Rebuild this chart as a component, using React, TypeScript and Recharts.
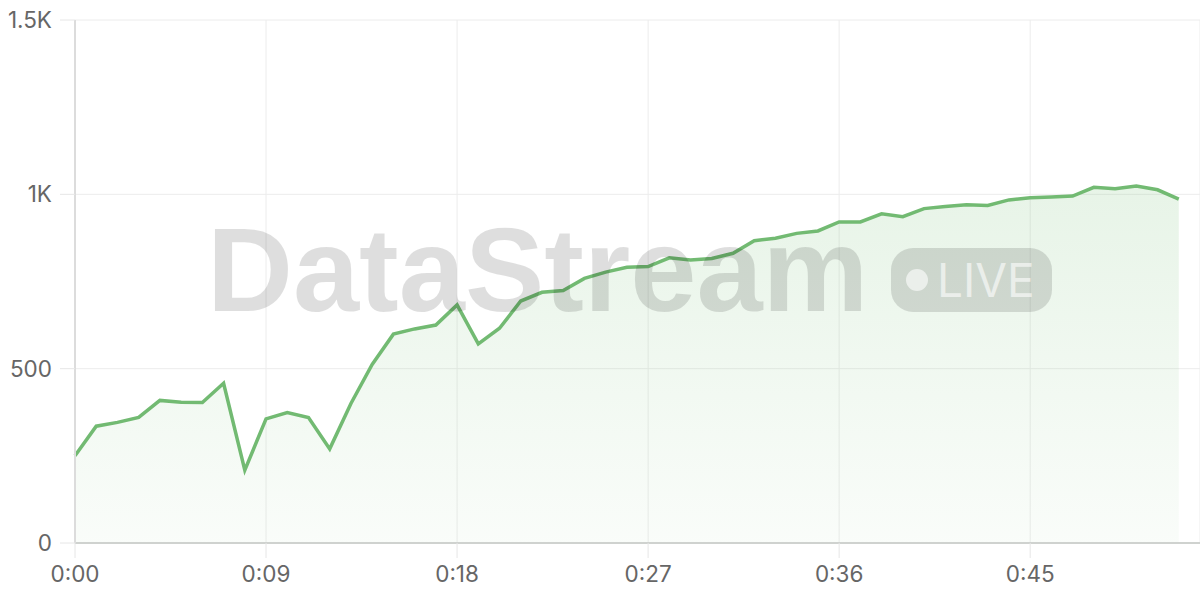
import React from 'react';
import { AreaChart, Area, XAxis, YAxis, CartesianGrid } from 'recharts';

// seconds since start
const seconds = [
  0, 1, 2, 3, 4, 5, 6, 7, 8, 9, 10, 11, 12, 13, 14, 15, 16, 17, 18, 19, 20, 21, 22, 23, 24, 25, 26,
  27, 28, 29, 30, 31, 32, 33, 34, 35, 36, 37, 38, 39, 40, 41, 42, 43, 44, 45, 46, 47, 48, 49, 50, 51, 52,
];

const events = [
  250, 335, 346, 360, 409, 404, 403, 458, 209, 356, 374, 360, 270, 400, 512, 599, 614, 625, 683, 571,
  616, 694, 719, 724, 759, 777, 791, 793, 818, 812, 816, 831, 867, 874, 888, 895, 921, 921, 944, 936,
  959, 965, 970, 968, 984, 990, 992, 995, 1020, 1016, 1024, 1013, 986,
];

const xTicks = [0, 9, 18, 27, 36, 45];
const yTicks = [0, 500, 1000, 1500];

const data = seconds.map((t, i) => ({ t, value: events[i] }));

const fmtTime = (s: number) => `${Math.floor(s / 60)}:${String(s % 60).padStart(2, '0')}`;
const fmtCount = (v: number) => (v >= 1000 ? `${v / 1000}K` : String(v));

const tickStyle = { fill: '#666', fontSize: 22.5, fontFamily: 'Inter, "Noto Sans", sans-serif' };

const App: React.FC = () => {
  return (
    <div style={{ position: 'absolute', left: 0, top: 0, width: 1200, height: 600, background: '#fff' }}>
      <AreaChart width={1200} height={600} data={data} margin={{ top: 20, right: 0, left: 0, bottom: 0 }}>
        <defs>
          <linearGradient id="fillGreen" x1="0" y1="0" x2="0" y2="1">
            <stop offset="0%" stopColor="#7cc27c" stopOpacity={0.3} />
            <stop offset="100%" stopColor="#7cc27c" stopOpacity={0.07} />
          </linearGradient>
        </defs>
        <CartesianGrid stroke="#ececec" />
        <XAxis
          dataKey="t"
          type="number"
          domain={[0, 53]}
          ticks={xTicks}
          tickFormatter={fmtTime}
          height={57}
          tickSize={15}
          tickMargin={8}
          tick={tickStyle}
          axisLine={{ stroke: '#cfd2cf', strokeWidth: 2 }}
          tickLine={{ stroke: '#e6e6e6' }}
        />
        <YAxis
          type="number"
          domain={[0, 1500]}
          ticks={yTicks}
          tickFormatter={fmtCount}
          width={75}
          tickSize={15}
          tickMargin={8}
          tick={tickStyle}
          axisLine={{ stroke: '#dcdcdc', strokeWidth: 2 }}
          tickLine={{ stroke: '#e6e6e6' }}
        />
        <Area
          type="linear"
          dataKey="value"
          stroke="#72ba72"
          strokeWidth={3.5}
          fill="url(#fillGreen)"
          isAnimationActive={false}
        />
      </AreaChart>
      <div
        style={{
          position: 'absolute',
          left: 207,
          top: 203,
          fontFamily: '"Liberation Sans", Arial, sans-serif',
          fontWeight: 700,
          fontSize: 119,
          lineHeight: '134px',
          letterSpacing: 0,
          color: 'rgba(0,0,0,0.13)',
          pointerEvents: 'none',
        }}
      >
        DataStream
      </div>
      <div
        style={{
          position: 'absolute',
          left: 891,
          top: 248,
          width: 161,
          height: 64,
          borderRadius: 22,
          background: 'rgba(0,0,0,0.13)',
          display: 'flex',
          alignItems: 'center',
          pointerEvents: 'none',
        }}
      >
        <div
          style={{
            width: 22,
            height: 22,
            borderRadius: 11,
            background: 'rgba(255,255,255,0.6)',
            marginLeft: 15,
            marginRight: 9,
          }}
        />
        <span
          style={{
            fontFamily: 'Inter, "Noto Sans", sans-serif',
            fontSize: 46,
            fontWeight: 400,
            color: 'rgba(255,255,255,0.6)',
            lineHeight: '46px',
          }}
        >
          LIVE
        </span>
      </div>
    </div>
  );
};

export default App;
